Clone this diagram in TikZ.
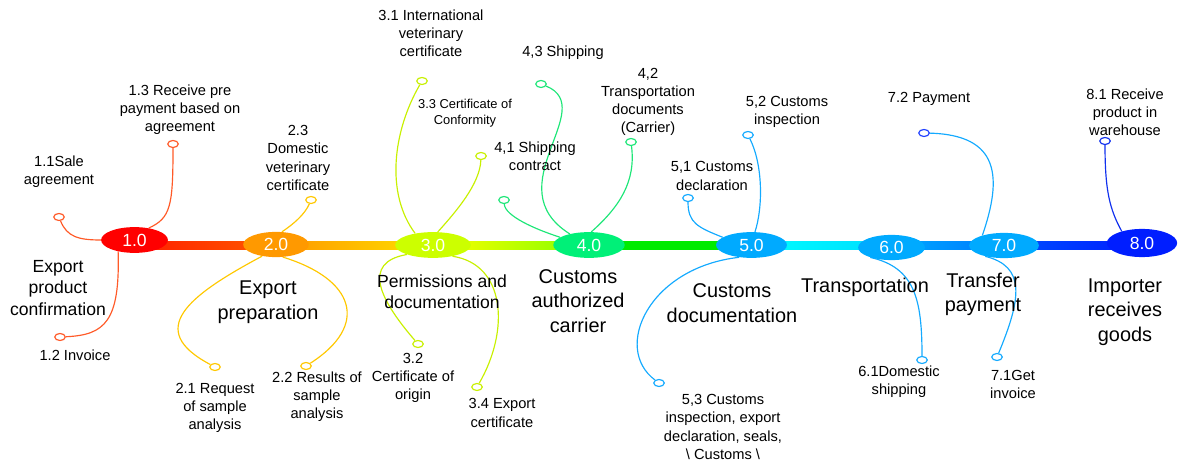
\documentclass[tikz,border=0pt]{standalone}
\usepackage{fontspec}
\setmainfont{Liberation Sans}
\usetikzlibrary{shapes.geometric,calc,backgrounds}

\definecolor{ph1}{RGB}{255,0,0}
\definecolor{ph2}{RGB}{255,153,0}
\definecolor{ph3}{RGB}{204,255,0}
\definecolor{ph4}{RGB}{0,240,120}
\definecolor{ph5}{RGB}{0,170,255}
\definecolor{ph8}{RGB}{0,30,255}
\definecolor{tw1}{RGB}{255,90,40}
\definecolor{tw2}{RGB}{255,200,0}
\definecolor{tw3}{RGB}{200,240,0}
\definecolor{tw4}{RGB}{30,230,120}
\definecolor{tw5}{RGB}{20,170,255}
\definecolor{tw7}{RGB}{32,64,255}
\definecolor{tw8}{RGB}{16,48,238}

\begin{document}
\begin{tikzpicture}[x=0.03cm,y=0.03cm]
\tikzstyle{every node}+=[inner sep=0pt]
\tikzstyle{phase}=[ellipse,minimum height=22pt,text=white,font=\fontsize{15}{18}\selectfont]
\tikzstyle{leaf}=[ellipse,draw,fill=white,line width=1pt,minimum width=9pt,minimum height=6pt]
\tikzstyle{twig}=[line width=1pt]
\tikzstyle{small}=[align=center,font=\fontsize{12.5}{15.5}\selectfont]
\tikzstyle{tiny}=[align=center,font=\fontsize{11}{14}\selectfont]
\tikzstyle{mid}=[align=center,font=\fontsize{15}{18}\selectfont]
\tikzstyle{big}=[align=center,font=\fontsize{17}{21}\selectfont]
\useasboundingbox (0,0) rectangle (1178,-461);
\coordinate (axis) at (0,-245.5);

\node [phase,fill=ph1,minimum width=57pt] (p1) at (134.5,-240) {1.0};
\node [phase,fill=ph2,minimum width=56pt,minimum height=21.5pt] (p2) at (276,-244.5) {2.0};
\node [phase,fill=ph3,minimum width=64.6pt] (p3) at (433,-245) {3.0};
\node [phase,fill=ph4,minimum width=61pt] (p4) at (589,-245) {4.0};
\node [phase,fill=ph5,minimum width=60.5pt] (p5) at (751.5,-245) {5.0};
\node [phase,fill=ph5,minimum width=57pt,minimum height=21.5pt] (p6) at (891.5,-247.5) {6.0};
\node [phase,fill=ph5,minimum width=59.5pt,minimum height=21.5pt] (p7) at (1004,-245.5) {7.0};
\node [phase,fill=ph8,minimum width=60pt,minimum height=24pt] (p8) at (1142,-243) {8.0};

\node [leaf,draw=tw1] (c11) at (59,-217) {};
\node [leaf,draw=tw1] (c12) at (60,-337) {};
\node [leaf,draw=tw1] (c13) at (173,-144) {};
\node [leaf,draw=tw2] (c21) at (215,-367) {};
\node [leaf,draw=tw2] (c22) at (306,-366) {};
\node [leaf,draw=tw2] (c23) at (311,-200) {};
\node [leaf,draw=tw3] (c31) at (422,-81) {};
\node [leaf,draw=tw3] (c32) at (418,-344) {};
\node [leaf,draw=tw3] (c33) at (481,-156) {};
\node [leaf,draw=tw3] (c34) at (477,-387) {};
\node [leaf,draw=tw4] (c41) at (504,-200) {};
\node [leaf,draw=tw4] (c42) at (631,-142) {};
\node [leaf,draw=tw4] (c43) at (541,-84) {};
\node [leaf,draw=tw5] (c51) at (688,-198) {};
\node [leaf,draw=tw5] (c52) at (748,-135) {};
\node [leaf,draw=tw5] (c53) at (659,-383) {};
\node [leaf,draw=tw5] (c61) at (922,-360) {};
\node [leaf,draw=tw5] (c71) at (997,-357) {};
\node [leaf,draw=tw7] (c72) at (924,-133) {};
\node [leaf,draw=tw8] (c81) at (1105,-141) {};

\node [small] (t11) at (59,-172) {1.1Sale\\agreement};
\node [small] (t12) at (75,-355) {1.2 Invoice};
\node [small] (t13) at (180,-110) {1.3 Receive pre\\payment based on\\agreement};
\node [mid] (t1) at (58,-288) {Export\\product\\confirmation};
\node [small] (t21) at (215,-408) {2.1 Request\\of sample\\analysis};
\node [small] (t22) at (317,-397) {2.2 Results of\\sample\\analysis};
\node [small] (t23) at (298,-158) {2.3\\Domestic\\veterinary\\certificate};
\node [big] (t2) at (268,-302) {Export\\preparation};
\node [small] (t31) at (431,-33) {3.1 International\\veterinary\\certificate};
\node [small] (t32) at (413,-378) {3.2\\Certificate of\\origin};
\node [tiny] (t33) at (465,-113) {3.3 Certificate of\\Conformity};
\node [small] (t34) at (502,-413) {3.4 Export\\certificate};
\node [mid] (t3) at (442,-292) {Permissions and\\documentation};
\node [small] (t41) at (535,-156) {4,1 Shipping\\contract};
\node [small] (t42) at (648,-102) {4,2\\Transportation\\documents\\(Carrier)};
\node [small] (t43) at (563,-53) {4,3 Shipping};
\node [big] (t4) at (578,-301) {Customs\\authorized\\carrier};
\node [small] (t51) at (712,-176) {5,1 Customs\\declaration};
\node [small] (t52) at (787,-112) {5,2 Customs\\inspection};
\node [small] (t53) at (723,-427) {5,3 Customs\\inspection, export\\declaration, seals,\\\textbackslash{} Customs \textbackslash{}};
\node [big] (t5) at (732,-303) {Customs\\documentation};
\node [small] (t61) at (899,-381.5) {6.1Domestic\\shipping};
\node [big] (t6) at (865,-287) {Transportation};
\node [small] (t71) at (1013,-384.5) {7.1Get\\invoice};
\node [small] (t72) at (929,-99) {7.2 Payment};
\node [big] (t7) at (983,-294.5) {Transfer\\payment};
\node [small] (t81) at (1125,-112.5) {8.1 Receive\\product in\\warehouse};
\node [big] (t8) at (1125,-312) {Importer\\receives\\goods};

\begin{scope}[on background layer]
\shade [left color={rgb,255:red,255;green,30;blue,0},right color={rgb,255:red,255;green,90;blue,0}] ($(p1.center |- axis)+(0,4.2)$) rectangle ($(p2.center |- axis)+(0,-4.2)$);
\shade [left color={rgb,255:red,255;green,150;blue,0},right color={rgb,255:red,255;green,225;blue,0}] ($(p2.center |- axis)+(0,4.2)$) rectangle ($(p3.center |- axis)+(0,-4.2)$);
\shade [left color={rgb,255:red,255;green,255;blue,0},right color={rgb,255:red,130;green,255;blue,0}] ($(p3.center |- axis)+(0,4.2)$) rectangle ($(p4.center |- axis)+(0,-4.2)$);
\shade [left color={rgb,255:red,0;green,235;blue,0},right color={rgb,255:red,0;green,235;blue,0}] ($(p4.center |- axis)+(0,4.2)$) rectangle ($(p5.center |- axis)+(0,-4.2)$);
\shade [left color={rgb,255:red,0;green,255;blue,255},right color={rgb,255:red,0;green,220;blue,255}] ($(p5.center |- axis)+(0,4.2)$) rectangle ($(p6.center |- axis)+(0,-4.2)$);
\shade [left color={rgb,255:red,0;green,170;blue,255},right color={rgb,255:red,0;green,120;blue,255}] ($(p6.center |- axis)+(0,4.2)$) rectangle ($(p7.center |- axis)+(0,-4.2)$);
\shade [left color={rgb,255:red,0;green,80;blue,255},right color={rgb,255:red,0;green,30;blue,255}] ($(p7.center |- axis)+(0,4.2)$) rectangle ($(p8.center |- axis)+(0,-4.2)$);

\draw [twig,tw1] (c11) .. controls +(8,-20) and +(-22,0) .. (p1.west);
\draw [twig,tw1] (c13) .. controls +(0,-62) and +(22,10) .. (p1.40);
\draw [twig,tw1] (p1.215) .. controls +(2,-70) and +(45,2) .. (c12);
\draw [twig,tw2] (c23) .. controls +(-6,-14) and +(12,8) .. (p2.65);
\draw [twig,tw2] (p2.220) .. controls +(-75,-40) and +(-70,37) .. (c21);
\draw [twig,tw2] (p2.298) .. controls +(72,-22) and +(64,41) .. (c22);
\draw [twig,tw3] (c31) .. controls +(-29,-50) and +(-30,40) .. (p3.147);
\draw [twig,tw3] (c33) .. controls +(-1,-28) and +(18,20) .. (p3.70);
\draw [twig,tw3] (p3.200) .. controls +(-46,-8) and +(-38,44) .. (c32);
\draw [twig,tw3] (p3.330) .. controls +(53,-8) and +(33,57) .. (c34);
\draw [twig,tw4] (c43) .. controls +(59,-24) and +(-75,47) .. (p4.150);
\draw [twig,tw4] (c42) .. controls +(5,-40) and +(28,25) .. (p4.80);
\draw [twig,tw4] (c41) .. controls +(1,-16) and +(-25,8) .. (p4.165);
\draw [twig,tw5] (c51) .. controls +(0,-25) and +(-25,10) .. (p5.165);
\draw [twig,tw5] (c52) .. controls +(15,-30) and +(8,25) .. (p5.75);
\draw [twig,tw5] (p5.225) .. controls +(-90,-10) and +(-47,35) .. (c53);
\draw [twig,tw5] (p6.205) .. controls +(45,-10) and +(0,60) .. (c61);
\draw [twig,tw5] (c72) .. controls +(76,-2) and +(20,58) .. (p7.155);
\draw [twig,tw5] (p7.210) .. controls +(40,-10) and +(25,60) .. (c71);
\draw [twig,tw8] (c81) .. controls +(0,-50) and +(-12,22) .. (p8.150);
\end{scope}
\end{tikzpicture}
\end{document}
